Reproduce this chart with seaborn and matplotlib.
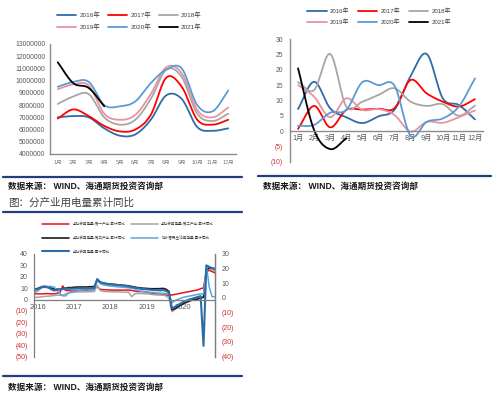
import numpy as np
import pandas as pd
import seaborn as sns
import matplotlib
matplotlib.use("Agg")
import matplotlib.pyplot as plt
from matplotlib.lines import Line2D

# ---- data: monthly electricity use (unit: million kWh) ----
months = ["1月", "2月", "3月", "4月", "5月", "6月", "7月", "8月", "9月", "10月", "11月", "12月"]
years = ["2016年", "2017年", "2018年", "2019年", "2020年", "2021年"]

use_2016 = [7.0, 7.1, 7.0, 6.1, 5.5, 5.6, 6.8, 8.8, 8.5, 6.2, 5.9, 6.1]
use_2017 = [6.9, 7.65, 7.1, 6.3, 5.85, 6.0, 7.2, 10.25, 9.5, 6.8, 6.4, 6.8]
use_2018 = [8.1, 8.7, 8.9, 7.0, 6.4, 6.8, 8.5, 10.9, 10.3, 7.3, 6.7, 7.3]
use_2019 = [9.3, 9.7, 9.6, 7.3, 6.8, 7.2, 8.9, 11.1, 10.6, 7.6, 7.0, 7.8]
use_2020 = [9.5, 9.9, 9.9, 8.0, 7.9, 8.3, 9.8, 10.9, 11.0, 8.0, 7.5, 9.2]
use_2021 = [11.5, 9.8, 9.4, 7.9]

# ---- data: monthly yoy growth (%) ----
yoy_2016 = [7.2, 16.1, 7.4, 4.5, 2.6, 4.8, 7.0, 18.0, 25.2, 10.7, 8.5, 3.8]
yoy_2017 = [0.7, 8.2, 1.2, 6.9, 7.0, 7.3, 7.5, 16.7, 12.3, 9.6, 8.0, 10.4]
yoy_2018 = [16.0, 13.4, 25.2, 8.0, 9.6, 11.8, 14.0, 9.6, 8.2, 8.8, 5.0, 8.3]
yoy_2019 = [15.0, 11.2, 4.5, 10.7, 6.9, 7.2, 5.2, -0.2, 3.0, 2.7, 4.5, 6.7]
yoy_2020 = [1.7, 2.0, 6.0, 6.9, 16.0, 15.0, 14.8, -1.6, 3.0, 4.1, 8.0, 17.2]
yoy_2021 = [20.5, 0.3, -5.9, -2.4]

# ---- data: cumulative yoy by sector, 2016-01 .. 2021-04 ----
year_labels = ["2016", "2017", "2018", "2019", "2020"]
sector_names = ["全社会用电量:第一产业:累计同比", "全社会用电量:第二产业:累计同比",
                "全社会用电量:第三产业:累计同比", "城乡居民生活用电量:累计同比",
                "全社会用电量:累计同比"]
primary = [5, 5, 5, 5, 5.2, 5.2, 5, 5, 5.5, 6, 12, 8,
           8, 7.5, 7.5, 7.8, 8, 8, 8.2, 8.5, 8.5, 8.8, 11.5, 9,
           8.7, 8.5, 8.5, 8.3, 8.3, 8.3, 8.3, 8.3, 8.3, 8.3, 8, 7.5,
           7, 7, 7, 6.5, 6, 5.5, 5, 4.8, 4.5, 4.2, 4, 3.5,
           4, 4.5, 5, 5.5, 6, 6.5, 7, 7.5, 8, 8.5, 9.5, 10.3,
           24.3, 25.8, 24.5, 23.5]
secondary = [1.8, 2, 2.2, 2.5, 2.8, 3, 3.2, 3.5, 3.8, 3.8, 4, 5,
             6, 6.2, 6.5, 6.7, 6.7, 6.8, 6.8, 6.8, 7, 7, 12.5, 8,
             7.2, 7, 7, 6.8, 6.8, 6.7, 6.7, 6.5, 6.5, 6.3, 2.5, 5,
             5.4, 5.3, 5.2, 5, 4.8, 4.5, 4.2, 4, 4, 4, 3, 1,
             -10.6, -9, -7, -5, -3.5, -2, -1, 0, 0.8, 1.5, 2, 2,
             26, 27, 26, 25]
tertiary = [8.7, 9.5, 10.5, 11.5, 11.5, 11, 10, 9.5, 9, 9, 9.5, 10,
            10.5, 10.5, 10.8, 11, 11, 11, 11, 11.2, 11.2, 11.5, 17, 15,
            14.5, 14, 13.8, 13.5, 13.3, 13, 12.8, 12.5, 12.3, 12, 11.5, 11,
            10.5, 10.2, 10, 9.8, 9.6, 9.5, 9.5, 9.5, 9.6, 9.8, 9, 7,
            -9, -8, -6.5, -5, -3.5, -2.5, -1.5, -0.5, 0, 0.5, 1.5, 2,
            25.8, 28, 27.5, 27]
resident = [5.8, 7, 9, 11.5, 11.6, 11.6, 11.5, 11, 8, 5, 3.2, 3.2,
            5.8, 6.5, 7, 7.5, 8, 8.3, 8.5, 8.7, 8.7, 9, 17.4, 14,
            13, 12.5, 12, 11.8, 11.5, 11.2, 11, 10.8, 10.5, 10.3, 10, 9.5,
            8, 7.5, 7, 6.8, 6.5, 6.3, 6, 5.8, 5.5, 5.5, 5.2, 5,
            -3, -1, 0, 1, 2, 2.5, 3, 3.5, 4, 4.5, 5, 5,
            30, 11, 2.5, 2.5]
total = [8, 9, 10, 11, 11, 10.5, 9, 8, 8.5, 9, 9.2, 9.5,
         9.5, 9.5, 9.6, 9.7, 9.8, 9.8, 9.9, 10, 10, 10.2, 18, 15.5,
         14.5, 14, 13.5, 13.2, 13, 12.8, 12.5, 12.3, 12, 11.5, 11, 10.5,
         10, 9.5, 9.2, 9, 8.8, 8.5, 8.3, 8.2, 8, 8.3, 7.5, 6,
         -7.7, -6.5, -5, -3.5, -2, -1, 0, 0.8, 1.5, 2.3, 3, -40.7,
         30, 28.7, 27.5, 27]

W, H = 499, 399
year_colors = ["#2E6CA8", "#FF0000", "#A6A6A6", "#E8939F", "#5B9BD5", "#000000"]
sector_colors = ["#E8141B", "#A6A6A6", "#1A1A1A", "#5DA5DE", "#2E6CA8"]
neg_red = "#D03030"
sep_blue = "#1F3F80"
FONT = ["Liberation Sans", "Noto Sans CJK SC", "DejaVu Sans"]

sns.set_theme(style="white")
plt.rcParams["font.family"] = FONT
plt.rcParams["axes.unicode_minus"] = False


def rect(x0, y0, x1, y1):
    return [x0 / W, 1 - y1 / H, (x1 - x0) / W, (y1 - y0) / H]


def smooth(ys, n=16):
    # Catmull-Rom curve through the points, like Excel's smoothed line
    p = np.asarray(ys, dtype=float)
    x = np.arange(len(p), dtype=float)
    if len(p) < 3:
        return x, p
    pp = np.concatenate([[2 * p[0] - p[1]], p, [2 * p[-1] - p[-2]]])
    sx, sy = [], []
    t = np.linspace(0, 1, n, endpoint=False)
    for i in range(len(p) - 1):
        p0, p1, p2, p3 = pp[i], pp[i + 1], pp[i + 2], pp[i + 3]
        yy = 0.5 * (2 * p1 + (-p0 + p2) * t + (2 * p0 - 5 * p1 + 4 * p2 - p3) * t ** 2
                    + (-p0 + 3 * p1 - 3 * p2 + p3) * t ** 3)
        sx.extend(i + t)
        sy.extend(yy)
    sx.append(x[-1])
    sy.append(p[-1])
    return np.array(sx), np.array(sy)


def paren_fmt(v):
    v = int(round(v))
    return f"({-v})" if v < 0 else f"{v}"


fig = plt.figure(figsize=(W / 100, H / 100), dpi=100)
fig.patch.set_facecolor("white")

# ---------------- top left: monthly use ----------------
ax1 = fig.add_axes(rect(50, 44, 236, 154))
use_series = [use_2016, use_2017, use_2018, use_2019, use_2020, use_2021]
for yr, vals, c in zip(years, use_series, year_colors):
    sx, sy = smooth(vals)
    sns.lineplot(x=sx, y=sy, ax=ax1, color=c, lw=1.3, sort=False, estimator=None, legend=False)
ax1.set_xlim(-0.5, 11.5)
ax1.set_ylim(4, 13)
ax1.set_yticks(range(4, 14))
ax1.set_yticklabels([f"{v * 1000000:d}" for v in range(4, 14)])
ax1.set_xticks(range(12))
ax1.set_xticklabels(months)
ax1.tick_params(axis="y", length=0, pad=3.5, labelsize=4.9, labelcolor="#595959")
ax1.tick_params(axis="x", length=0, pad=4, labelsize=4.0, labelcolor="#7F7F7F")
for s in ["top", "right"]:
    ax1.spines[s].set_visible(False)
for s in ["left", "bottom"]:
    ax1.spines[s].set_color("#8C8C8C")
    ax1.spines[s].set_linewidth(1.0)
ax1.set_xlabel("")
ax1.set_ylabel("")
order = [0, 3, 1, 4, 2, 5]
h1 = [Line2D([], [], color=year_colors[i], lw=1.3) for i in order]
ax1.legend(h1, [years[i] for i in order], ncol=3, loc="center",
           bbox_to_anchor=(129.5 / W, 1 - 20.5 / H), bbox_transform=fig.transFigure,
           frameon=False, fontsize=4.6, handlelength=3.0, handletextpad=0.5,
           columnspacing=1.2, labelspacing=0.85, borderpad=0, borderaxespad=0,
           labelcolor="#404040")

# ---------------- top right: monthly yoy ----------------
ax2 = fig.add_axes(rect(290, 39.3, 483, 161.6))
yoy_series = [yoy_2016, yoy_2017, yoy_2018, yoy_2019, yoy_2020, yoy_2021]
for yr, vals, c in zip(years, yoy_series, year_colors):
    sx, sy = smooth(vals)
    sns.lineplot(x=sx, y=sy, ax=ax2, color=c, lw=1.3, sort=False, estimator=None, legend=False)
ax2.set_xlim(-0.5, 11.5)
ax2.set_ylim(-10, 30)
ticks2 = list(range(-10, 31, 5))
ax2.set_yticks(ticks2)
ax2.set_yticklabels([paren_fmt(v) for v in ticks2])
for lab, v in zip(ax2.get_yticklabels(), ticks2):
    lab.set_color(neg_red if v < 0 else "#595959")
ax2.set_xticks(range(12))
ax2.set_xticklabels(months)
ax2.spines["bottom"].set_position(("data", 0))
ax2.tick_params(axis="y", length=0, pad=5, labelsize=4.9)
ax2.tick_params(axis="x", length=0, pad=3, labelsize=5.2, labelcolor="#595959")
for s in ["top", "right"]:
    ax2.spines[s].set_visible(False)
for s in ["left", "bottom"]:
    ax2.spines[s].set_color("#8C8C8C")
    ax2.spines[s].set_linewidth(1.0)
ax2.set_xlabel("")
ax2.set_ylabel("")
h2 = [Line2D([], [], color=year_colors[i], lw=1.3) for i in order]
ax2.legend(h2, [years[i] for i in order], ncol=3, loc="center",
           bbox_to_anchor=(379 / W, 1 - 17 / H), bbox_transform=fig.transFigure,
           frameon=False, fontsize=4.4, handlelength=3.2, handletextpad=0.5,
           columnspacing=1.4, labelspacing=0.9, borderpad=0, borderaxespad=0,
           labelcolor="#404040")

# ---------------- bottom: cumulative yoy by sector ----------------
ax3 = fig.add_axes(rect(34, 254, 215, 356.5))
mi = np.arange(len(total))
sector_series = [primary, secondary, tertiary, resident, total]
sector_lw = [1.1, 1.1, 1.2, 1.1, 1.5]
df3 = pd.DataFrame({"month": np.tile(mi, 5),
                    "value": np.concatenate(sector_series),
                    "series": np.repeat(sector_names, len(mi))})
for name, c, lw in zip(sector_names, sector_colors, sector_lw):
    d = df3[df3["series"] == name]
    sns.lineplot(data=d, x="month", y="value", ax=ax3, color=c, lw=lw, legend=False)
ax3.set_xlim(0, 63)
ax3.set_ylim(-50, 40)
ticks3 = list(range(-50, 41, 10))
ax3.set_yticks(ticks3)
ax3.set_yticklabels([paren_fmt(v) for v in ticks3])
for lab, v in zip(ax3.get_yticklabels(), ticks3):
    lab.set_color(neg_red if v < 0 else "#595959")
year_pos = [1.4, 14.1, 26.6, 39.3, 51.7]
ax3.set_xticks(year_pos)
ax3.set_xticklabels(year_labels)
ax3.spines["bottom"].set_position(("data", 0))
ax3.tick_params(axis="y", length=0, pad=4.5, labelsize=5.0)
ax3.tick_params(axis="x", length=0, pad=3.2, labelsize=5.4, labelcolor="#595959")
ax3.spines["top"].set_visible(False)
for s in ["left", "right", "bottom"]:
    ax3.spines[s].set_color("#7F7F7F")
    ax3.spines[s].set_linewidth(0.9)
ax3.set_xlabel("")
ax3.set_ylabel("")

ax3r = ax3.twinx()
ax3r.set_ylim(-40, 30)
ticks3r = list(range(-40, 31, 10))
ax3r.set_yticks(ticks3r)
ax3r.set_yticklabels([paren_fmt(v) for v in ticks3r])
for lab, v in zip(ax3r.get_yticklabels(), ticks3r):
    lab.set_color(neg_red if v < 0 else "#595959")
ax3r.tick_params(axis="y", length=0, pad=4.5, labelsize=5.0)
for s in ["top", "bottom", "left"]:
    ax3r.spines[s].set_visible(False)
ax3r.spines["right"].set_color("#7F7F7F")
ax3r.spines["right"].set_linewidth(0.9)
ax3r.grid(False)

order3 = [0, 2, 4, 1, 3]
h3 = [Line2D([], [], color=sector_colors[i], lw=sector_lw[i]) for i in order3]
ax3.legend(h3, [sector_names[i] for i in order3], ncol=2, loc="center",
           bbox_to_anchor=(128 / W, 1 - 238 / H), bbox_transform=fig.transFigure,
           frameon=False, fontsize=2.6, handlelength=7.5, handletextpad=1.0,
           columnspacing=1.5, labelspacing=2.6, borderpad=0, borderaxespad=0,
           labelcolor="#404040")

# ---------------- separators and captions ----------------
def hline(x0, x1, y):
    fig.add_artist(Line2D([x0 / W, x1 / W], [1 - y / H, 1 - y / H], color=sep_blue, lw=1.6))


hline(3, 242, 177)
hline(258, 491, 176)
hline(3, 242, 212)
hline(3, 242, 376)

src = "数据来源： WIND、海通期货投资咨询部"
fig.text(8 / W, 1 - 186 / H, src, fontsize=6.2, fontweight="bold", va="center", color="#1A1A1A")
fig.text(263 / W, 1 - 186 / H, src, fontsize=6.2, fontweight="bold", va="center", color="#1A1A1A")
fig.text(8 / W, 1 - 387 / H, src, fontsize=6.2, fontweight="bold", va="center", color="#1A1A1A")
fig.text(8 / W, 1 - 203 / H, "图：分产业用电量累计同比", fontsize=7.6, va="center", color="#404040")

fig.savefig("out.png", dpi=100, facecolor="white")
